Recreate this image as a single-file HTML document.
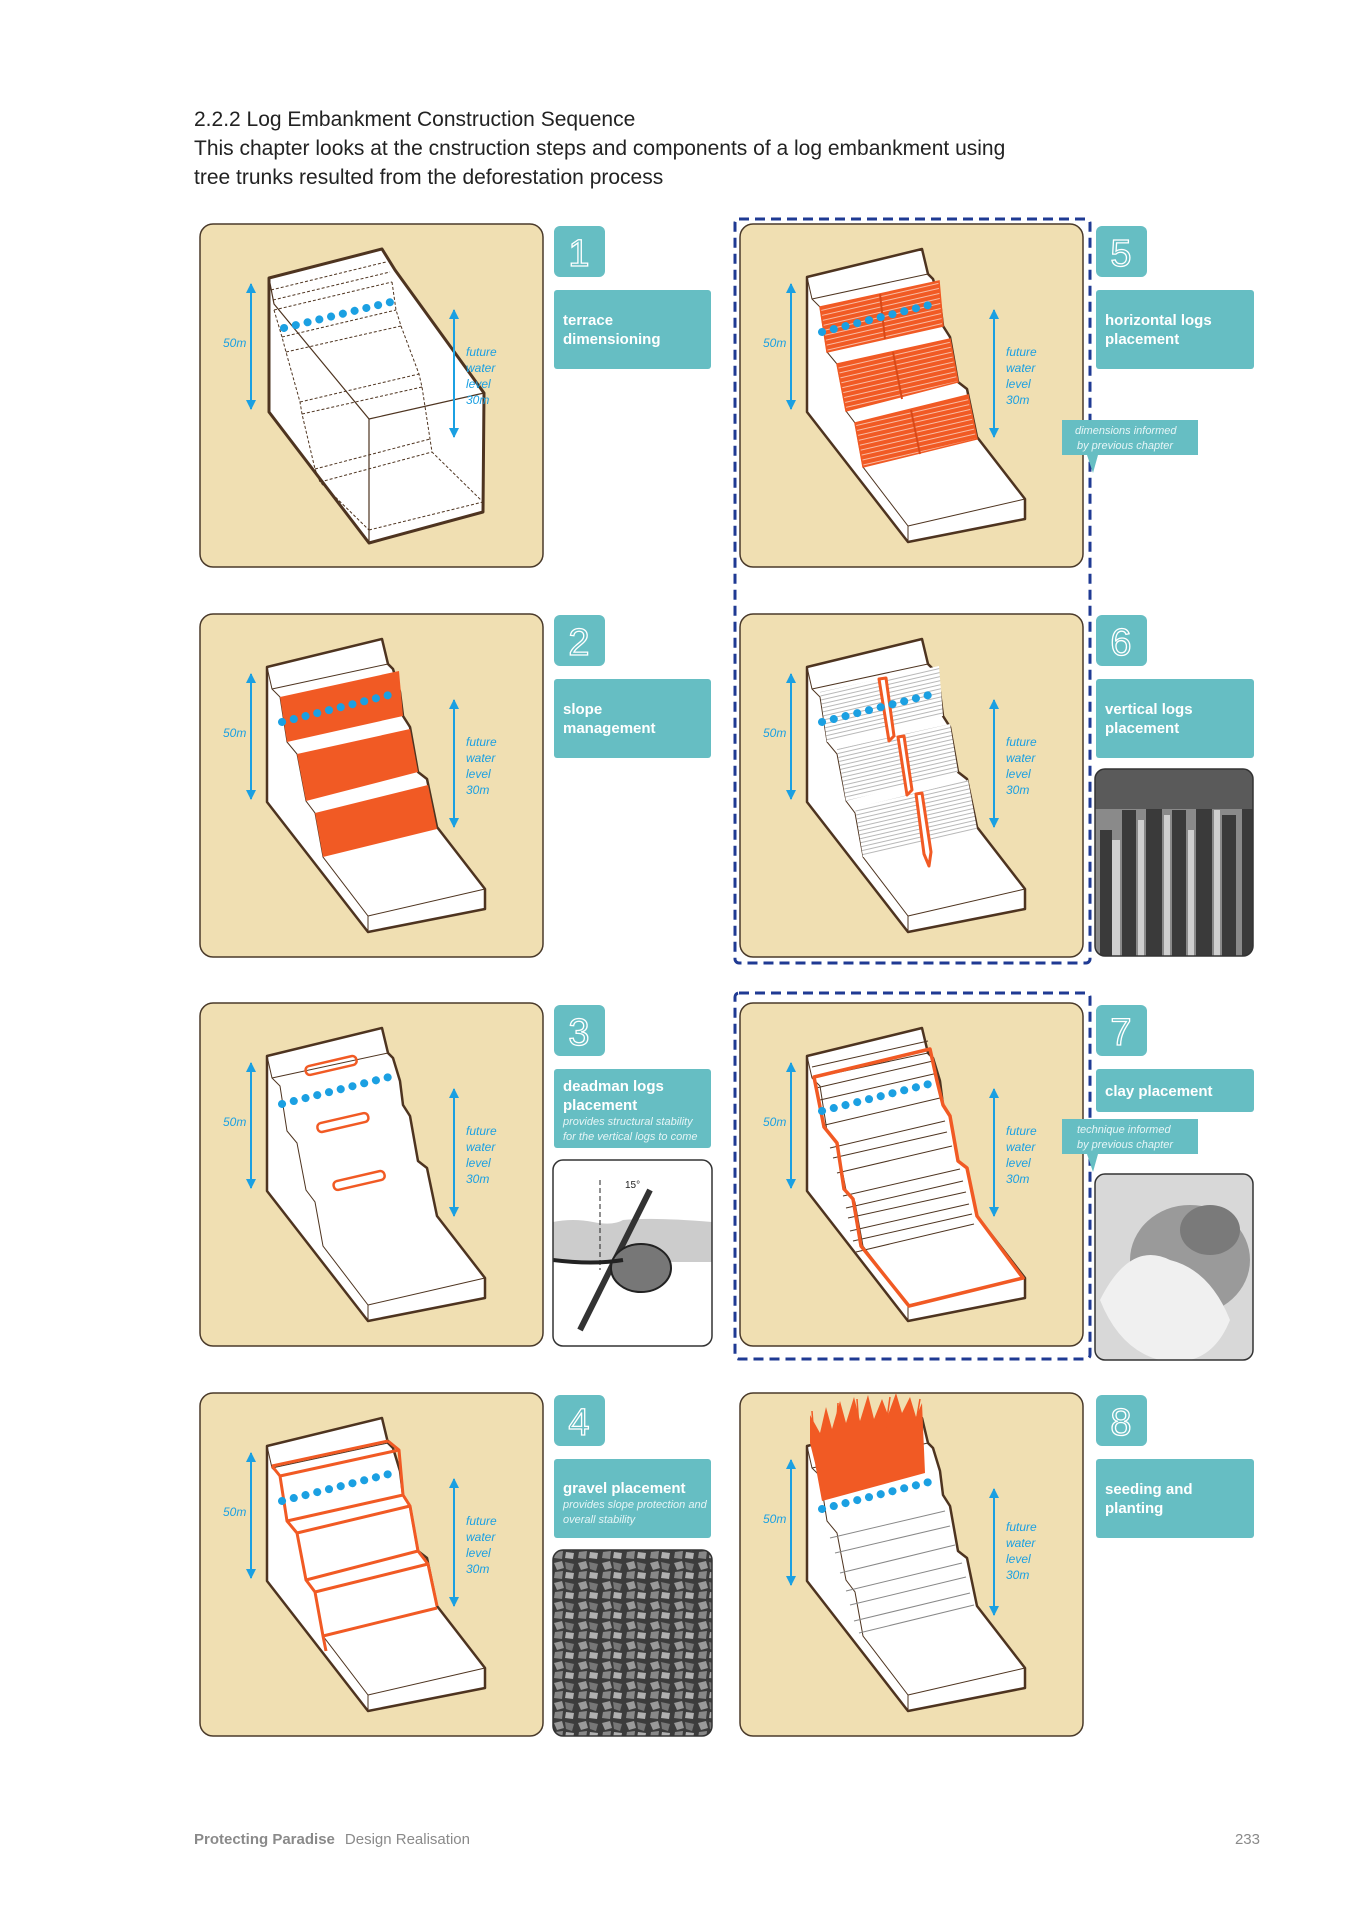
<!DOCTYPE html>
<html><head><meta charset="utf-8"><style>html,body{margin:0;padding:0;background:#fff}svg{display:block}</style></head><body>
<svg width="1358" height="1920" viewBox="0 0 1358 1920" xmlns="http://www.w3.org/2000/svg" font-family="Liberation Sans, sans-serif">
<defs>
<marker id="ah" viewBox="0 0 10 10" refX="9" refY="5" markerWidth="5" markerHeight="6" orient="auto-start-reverse"><path d="M0,0 L10,5 L0,10z" fill="#1ba0e2"/></marker>
<pattern id="hatchO" width="6" height="5" patternUnits="userSpaceOnUse" patternTransform="rotate(-13)"><rect width="6" height="5" fill="#f15a24"/><line x1="0" y1="2.5" x2="6" y2="2.5" stroke="#fbd3c2" stroke-width="0.8"/></pattern>
<pattern id="hatchG" width="6" height="4" patternUnits="userSpaceOnUse" patternTransform="rotate(-13)"><rect width="6" height="4" fill="#fff"/><line x1="0" y1="2" x2="6" y2="2" stroke="#9a9a9a" stroke-width="0.7"/></pattern>
<g id="base">
<polygon points="67,53 182,25 188,50 193,55 200,78 203,102 210,113 218,158 227,165 237,213 285,275 285,295 168,318 67,188" fill="#fff" stroke="#4e3420" stroke-width="2.5" stroke-linejoin="round"/>
<polyline points="67,53 72,75 80,83 87,128 97,140 106,187 115,199 123,243 168,302 168,318" fill="none" stroke="#4e3420" stroke-width="1"/>
<line x1="168" y1="302" x2="285" y2="275" stroke="#4e3420" stroke-width="1"/>
<line x1="72" y1="75" x2="188" y2="50" stroke="#4e3420" stroke-width="1"/>
</g>
<g id="meas">
<line x1="51" y1="60" x2="51" y2="185" stroke="#1ba0e2" stroke-width="2" marker-start="url(#ah)" marker-end="url(#ah)"/>
<text x="23" y="123" font-size="12" font-style="italic" fill="#1ba0e2">50m</text>
<line x1="254" y1="86" x2="254" y2="213" stroke="#1ba0e2" stroke-width="2" marker-start="url(#ah)" marker-end="url(#ah)"/>
<text font-size="12" font-style="italic" fill="#1ba0e2"><tspan x="266" y="132">future</tspan><tspan x="266" y="148">water</tspan><tspan x="266" y="164">level</tspan><tspan x="266" y="180">30m</tspan></text>
</g>
<g id="panel"><rect x="0" y="0" width="343" height="343" rx="13" fill="#f0dfb2" stroke="#4a3a2a" stroke-width="1.5"/></g>
<g id="dots"><line x1="82" y1="108" x2="197" y2="79" stroke="#1ba0e2" stroke-width="8" stroke-linecap="round" stroke-dasharray="0.1 12"/></g>
</defs>

<text font-size="21" fill="#222"><tspan x="194" y="126">2.2.2 Log Embankment Construction Sequence</tspan><tspan x="194" y="155">This chapter looks at the cnstruction steps and components of a log embankment using</tspan><tspan x="194" y="184">tree trunks resulted from the deforestation process</tspan></text>

<rect x="735" y="219" width="355" height="744" rx="4" fill="none" stroke="#1f3a93" stroke-width="3" stroke-dasharray="10 6"/>
<rect x="735" y="993" width="355" height="366" rx="4" fill="none" stroke="#1f3a93" stroke-width="3" stroke-dasharray="10 6"/>

<!-- Panel 1 -->
<g transform="translate(200,224)">
<use href="#panel"/>
<polygon points="69,54 182,25 195,46 284,169 283,288 169,319 69,188" fill="#fff" stroke="#4e3420" stroke-width="3" stroke-linejoin="round"/>
<polyline points="69,54 74,80 169,195 169,319" fill="none" stroke="#4e3420" stroke-width="1.2"/>
<line x1="169" y1="195" x2="284" y2="169" stroke="#4e3420" stroke-width="1.2"/>
<g stroke="#4e3420" stroke-width="1" stroke-dasharray="3 2" fill="none">
<line x1="71" y1="66" x2="186" y2="38"/><line x1="73" y1="76" x2="190" y2="48"/><line x1="74" y1="86" x2="192" y2="58"/>
<line x1="82" y1="113" x2="196" y2="86"/><line x1="86" y1="128" x2="201" y2="102"/><line x1="100" y1="178" x2="219" y2="150"/>
<line x1="102" y1="190" x2="222" y2="163"/><line x1="115" y1="245" x2="230" y2="215"/><line x1="120" y1="258" x2="232" y2="228"/><line x1="169" y1="306" x2="283" y2="278"/>
<polyline points="74,86 82,113 86,128 100,178 102,190 115,245 120,258 169,306"/>
<polyline points="192,58 196,86 201,102 219,150 222,163 230,215 232,228 283,278"/>
</g>
<line x1="84" y1="104" x2="195" y2="77" stroke="#1ba0e2" stroke-width="8" stroke-linecap="round" stroke-dasharray="0.1 12"/>
<use href="#meas"/>
</g>

<!-- Panel 2 -->
<g transform="translate(200,614)">
<use href="#panel"/><use href="#base"/>
<g fill="#f15a24"><polygon points="80,83 199,57 203,102 87,128"/><polygon points="97,140 210,115 218,158 106,187"/><polygon points="115,199 228,171 237,215 123,243"/></g>
<use href="#dots"/><use href="#meas"/>
</g>

<!-- Panel 3 -->
<g transform="translate(200,1003)">
<use href="#panel"/><use href="#base"/>
<g fill="none" stroke="#f15a24" stroke-width="2.5"><rect x="105" y="58" width="52" height="9" rx="4" transform="rotate(-13 131 62)"/><rect x="117" y="115" width="52" height="9" rx="4" transform="rotate(-13 143 120)"/><rect x="133" y="173" width="52" height="9" rx="4" transform="rotate(-13 159 177)"/></g>
<line x1="82" y1="101" x2="197" y2="72" stroke="#1ba0e2" stroke-width="8" stroke-linecap="round" stroke-dasharray="0.1 12"/>
<use href="#meas"/>
</g>

<!-- Panel 4 -->
<g transform="translate(200,1393)">
<use href="#panel"/><use href="#base"/>
<g fill="none" stroke="#f15a24" stroke-width="3" stroke-linejoin="round">
<polyline points="72,73 80,83 87,128 97,140 106,187 115,199 123,243 126,258"/>
<polyline points="188,48 199,57 203,102 210,113 218,158 228,171 237,213"/>
<line x1="72" y1="73" x2="188" y2="48"/><line x1="80" y1="83" x2="199" y2="57"/>
<line x1="87" y1="128" x2="203" y2="102"/><line x1="97" y1="140" x2="210" y2="113"/>
<line x1="106" y1="187" x2="218" y2="158"/><line x1="115" y1="199" x2="228" y2="171"/>
<line x1="123" y1="243" x2="237" y2="215"/>
</g>
<use href="#dots"/><use href="#meas"/>
</g>

<!-- Panel 5 -->
<g transform="translate(740,224)">
<use href="#panel"/><use href="#base"/>
<g fill="url(#hatchO)" stroke="#f15a24" stroke-width="1.5"><polygon points="80,83 199,57 203,102 87,128"/><polygon points="97,140 210,115 218,158 106,187"/><polygon points="115,199 228,171 237,215 123,243"/></g>
<g stroke="#d94a18" stroke-width="2"><line x1="140" y1="70" x2="145" y2="115"/><line x1="153" y1="128" x2="162" y2="175"/><line x1="171" y1="186" x2="180" y2="230"/></g>
<use href="#dots"/><use href="#meas"/>
</g>

<!-- Panel 6 -->
<g transform="translate(740,614)">
<use href="#panel"/><use href="#base"/>
<g fill="url(#hatchG)"><polygon points="80,78 199,52 203,102 87,128"/><polygon points="97,135 210,110 218,158 106,187"/><polygon points="115,194 228,166 237,215 123,243"/></g>
<g fill="#fff" stroke="#f15a24" stroke-width="3" stroke-linejoin="round"><polygon points="139,65 146,64 154,122 149,127"/><polygon points="158,123 164,122 172,176 167,181"/><polygon points="176,180 182,179 191,238 189,252 184,240"/></g>
<use href="#dots"/><use href="#meas"/>
</g>

<!-- Panel 7 -->
<g transform="translate(740,1003)">
<use href="#panel"/><use href="#base"/>
<g stroke="#4e3420" stroke-width="1">
<line x1="72" y1="64" x2="188" y2="38"/><line x1="75" y1="73" x2="190" y2="47"/><line x1="76" y1="85" x2="193" y2="58"/><line x1="80" y1="97" x2="198" y2="70"/><line x1="85" y1="122" x2="200" y2="95"/><line x1="90" y1="145" x2="205" y2="118"/><line x1="93" y1="155" x2="207" y2="129"/><line x1="97" y1="170" x2="212" y2="143"/><line x1="103" y1="193" x2="220" y2="166"/><line x1="106" y1="205" x2="223" y2="178"/><line x1="108" y1="215" x2="226" y2="189"/><line x1="110" y1="228" x2="229" y2="201"/><line x1="113" y1="238" x2="232" y2="211"/><line x1="116" y1="249" x2="234" y2="221"/>
</g>
<polygon points="74,74 190,46 197,78 203,102 210,113 218,158 227,165 237,213 283,275 169,303 121,243 113,196 104,186 97,140 84,124" fill="none" stroke="#f15a24" stroke-width="3.5" stroke-linejoin="round"/>
<use href="#dots"/><use href="#meas"/>
</g>

<!-- Panel 8 -->
<g transform="translate(740,1393)">
<use href="#panel"/><use href="#base"/>
<g stroke="#888" stroke-width="1"><line x1="90" y1="145" x2="205" y2="118"/><line x1="95" y1="160" x2="210" y2="133"/><line x1="100" y1="180" x2="215" y2="152"/><line x1="106" y1="198" x2="222" y2="170"/><line x1="110" y1="212" x2="226" y2="184"/><line x1="114" y1="228" x2="230" y2="200"/><line x1="119" y1="240" x2="234" y2="212"/></g>
<polygon points="70,50 70,22 80,40 86,14 92,36 100,8 106,30 114,4 120,28 128,2 134,26 142,6 148,22 156,0 162,20 170,4 176,24 182,10 185,80 82,108 75,70" fill="#f15a24"/>
<g stroke="#f15a24" stroke-width="1.5"><line x1="75" y1="60" x2="72" y2="18"/><line x1="95" y1="60" x2="98" y2="10"/><line x1="120" y1="50" x2="117" y2="6"/><line x1="145" y1="40" x2="150" y2="4"/><line x1="175" y1="35" x2="180" y2="6"/></g>
<line x1="82" y1="116" x2="197" y2="87" stroke="#1ba0e2" stroke-width="8" stroke-linecap="round" stroke-dasharray="0.1 12"/>
<line x1="51" y1="67" x2="51" y2="192" stroke="#1ba0e2" stroke-width="2" marker-start="url(#ah)" marker-end="url(#ah)"/>
<text x="23" y="130" font-size="12" font-style="italic" fill="#1ba0e2">50m</text>
<line x1="254" y1="96" x2="254" y2="222" stroke="#1ba0e2" stroke-width="2" marker-start="url(#ah)" marker-end="url(#ah)"/>
<text font-size="12" font-style="italic" fill="#1ba0e2"><tspan x="266" y="138">future</tspan><tspan x="266" y="154">water</tspan><tspan x="266" y="170">level</tspan><tspan x="266" y="186">30m</tspan></text>
</g>

<g fill="#66bec3">
<rect x="554" y="226" width="51" height="51" rx="6"/><rect x="554" y="615" width="51" height="51" rx="6"/><rect x="554" y="1005" width="51" height="51" rx="6"/><rect x="554" y="1395" width="51" height="51" rx="6"/>
<rect x="1096" y="226" width="51" height="51" rx="6"/><rect x="1096" y="615" width="51" height="51" rx="6"/><rect x="1096" y="1005" width="51" height="51" rx="6"/><rect x="1096" y="1395" width="51" height="51" rx="6"/>
</g>
<g font-size="38" fill="#66bec3" stroke="#fff" stroke-width="1.3" text-anchor="middle">
<text x="579" y="266">1</text><text x="579" y="655">2</text><text x="579" y="1045">3</text><text x="579" y="1435">4</text>
<text x="1121" y="266">5</text><text x="1121" y="655">6</text><text x="1121" y="1045">7</text><text x="1121" y="1435">8</text>
</g>

<g fill="#66bec3">
<rect x="554" y="290" width="157" height="79" rx="3"/><rect x="554" y="679" width="157" height="79" rx="3"/><rect x="554" y="1069" width="157" height="79" rx="3"/><rect x="554" y="1459" width="157" height="79" rx="3"/>
<rect x="1096" y="290" width="158" height="79" rx="3"/><rect x="1096" y="679" width="158" height="79" rx="3"/><rect x="1096" y="1069" width="158" height="43" rx="3"/><rect x="1096" y="1459" width="158" height="79" rx="3"/>
<path d="M1062,420 h136 v35 h-100 l-5,18 l-6,-18 h-25 z"/>
<path d="M1062,1119 h136 v35 h-100 l-5,18 l-6,-18 h-25 z"/>
</g>
<g fill="#fff" font-size="15" font-weight="bold">
<text><tspan x="563" y="325">terrace</tspan><tspan x="563" y="344">dimensioning</tspan></text>
<text><tspan x="563" y="714">slope</tspan><tspan x="563" y="733">management</tspan></text>
<text><tspan x="563" y="1091">deadman logs</tspan><tspan x="563" y="1110">placement</tspan></text>
<text><tspan x="563" y="1493">gravel placement</tspan></text>
<text><tspan x="1105" y="325">horizontal logs</tspan><tspan x="1105" y="344">placement</tspan></text>
<text><tspan x="1105" y="714">vertical logs</tspan><tspan x="1105" y="733">placement</tspan></text>
<text><tspan x="1105" y="1096">clay placement</tspan></text>
<text><tspan x="1105" y="1494">seeding and</tspan><tspan x="1105" y="1513">planting</tspan></text>
</g>
<g fill="#e6f5f6" font-size="11" font-style="italic">
<text><tspan x="563" y="1125">provides structural stability</tspan><tspan x="563" y="1140">for the vertical logs to come</tspan></text>
<text><tspan x="563" y="1508">provides slope protection and</tspan><tspan x="563" y="1523">overall stability</tspan></text>
<text><tspan x="1075" y="434">dimensions informed</tspan><tspan x="1077" y="449">by previous chapter</tspan></text>
<text><tspan x="1077" y="1133">technique informed</tspan><tspan x="1077" y="1148">by previous chapter</tspan></text>
</g>

<defs><clipPath id="c1"><rect x="1095" y="769" width="158" height="187" rx="10"/></clipPath>
<clipPath id="c2"><rect x="553" y="1160" width="159" height="186" rx="10"/></clipPath>
<clipPath id="c3"><rect x="1095" y="1174" width="158" height="186" rx="10"/></clipPath>
<clipPath id="c4"><rect x="553" y="1550" width="159" height="186" rx="10"/></clipPath>
<pattern id="grav" width="24" height="20" patternUnits="userSpaceOnUse"><rect width="24" height="20" fill="#3c3c3c"/><polygon points="2,3 10,1 12,8 5,10" fill="#9a9a9a"/><polygon points="13,2 22,4 20,11 14,9" fill="#777"/><polygon points="3,12 11,11 10,19 2,18" fill="#888"/><polygon points="14,12 22,13 21,19 13,18" fill="#b0b0b0"/></pattern>
</defs>
<g clip-path="url(#c1)"><rect x="1095" y="769" width="158" height="187" fill="#8a8a8a"/>
<g fill="#3a3a3a"><rect x="1100" y="830" width="12" height="130"/><rect x="1122" y="810" width="14" height="150"/><rect x="1146" y="800" width="16" height="160"/><rect x="1172" y="810" width="14" height="150"/><rect x="1196" y="790" width="16" height="170"/><rect x="1222" y="815" width="14" height="145"/><rect x="1242" y="800" width="12" height="160"/></g>
<g fill="#cfcfcf"><rect x="1112" y="840" width="8" height="120"/><rect x="1138" y="820" width="6" height="140"/><rect x="1164" y="815" width="6" height="145"/><rect x="1188" y="830" width="6" height="130"/><rect x="1214" y="810" width="6" height="150"/></g>
<rect x="1095" y="769" width="158" height="40" fill="#5a5a5a"/></g>
<rect x="1095" y="769" width="158" height="187" rx="10" fill="none" stroke="#333" stroke-width="1.5"/>
<g clip-path="url(#c2)"><rect x="553" y="1160" width="159" height="186" fill="#fff"/>
<path d="M553,1222 q20,-4 40,0 q20,4 30,-2 q30,-3 89,2 v40 H553z" fill="#ccc"/>
<line x1="600" y1="1180" x2="600" y2="1270" stroke="#222" stroke-dasharray="5 3"/>
<line x1="580" y1="1330" x2="650" y2="1190" stroke="#333" stroke-width="6"/>
<ellipse cx="641" cy="1268" rx="30" ry="24" fill="#777" stroke="#222" stroke-width="2"/>
<path d="M553,1260 q40,5 70,0" fill="none" stroke="#222" stroke-width="4"/>
<text x="625" y="1188" font-size="10" fill="#222">15°</text></g>
<rect x="553" y="1160" width="159" height="186" rx="10" fill="none" stroke="#333" stroke-width="1.5"/>
<g clip-path="url(#c3)"><rect x="1095" y="1174" width="158" height="186" fill="#d8d8d8"/>
<ellipse cx="1190" cy="1260" rx="60" ry="55" fill="#9a9a9a"/>
<path d="M1100,1300 q30,-60 70,-40 q40,10 60,60 q-20,50 -70,40 q-40,-10 -60,-60z" fill="#f0f0f0"/>
<ellipse cx="1210" cy="1230" rx="30" ry="25" fill="#7a7a7a"/></g>
<rect x="1095" y="1174" width="158" height="186" rx="10" fill="none" stroke="#333" stroke-width="1.5"/>
<g clip-path="url(#c4)"><rect x="553" y="1550" width="159" height="186" fill="url(#grav)"/></g>
<rect x="553" y="1550" width="159" height="186" rx="10" fill="none" stroke="#333" stroke-width="1.5"/>

<text x="194" y="1844" font-size="15" fill="#8a8a8a"><tspan font-weight="bold">Protecting Paradise</tspan><tspan dx="10">Design Realisation</tspan></text>
<text x="1260" y="1844" font-size="15" fill="#8a8a8a" text-anchor="end">233</text>
</svg>
</body></html>
